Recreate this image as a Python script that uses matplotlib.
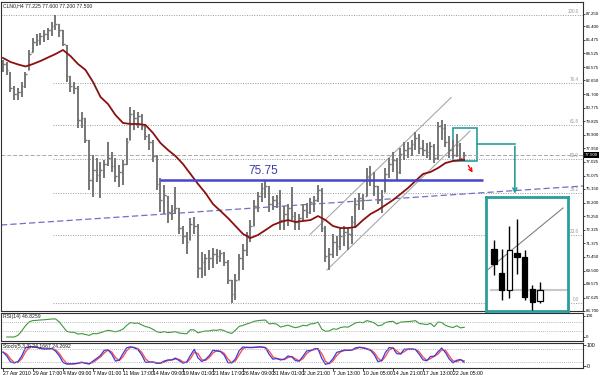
import numpy as np
import pandas as pd
import matplotlib
matplotlib.use("Agg")
import matplotlib.pyplot as plt
from matplotlib.patches import Rectangle

plt.rcParams['font.family'] = ['Liberation Sans', 'DejaVu Sans']

title = "CLN0,H4 77.225 77.600 77.200 77.500"

# price bars (one bar per 8 hours)
highs = [84.07, 83.93, 83.24, 82.27, 82.13, 82.55, 83.24, 84.76, 85.59, 85.87,
         85.94, 86.14, 86.28, 86.70, 87.18, 86.56, 86.14, 85.11, 82.96, 82.55,
         82.27, 80.47, 80.05, 78.53, 77.49, 77.29, 77.01, 77.15, 78.39, 77.70,
         77.29, 76.80, 77.15, 78.67, 80.82, 80.61, 80.47, 80.33, 79.64, 78.95,
         78.53, 77.49, 75.90, 75.42, 74.66, 74.03, 75.28, 73.83, 72.58, 72.17,
         73.13, 73.20, 72.72, 70.78, 70.64, 70.92, 71.06, 70.99, 70.92, 70.78,
         70.23, 68.84, 69.26, 70.64, 71.34, 72.17, 72.99, 74.38, 74.93, 75.56,
         75.70, 75.35, 74.66, 74.73, 75.07, 73.97, 74.10, 75.28, 73.55, 73.41,
         74.10, 74.17, 74.52, 74.66, 75.42, 75.21, 72.58, 71.06, 72.03, 71.89,
         72.44, 72.58, 72.44, 73.27, 74.52, 74.86, 74.79, 76.59, 76.73, 76.32,
         75.35, 75.07, 76.59, 77.29, 77.70, 77.29, 77.98, 78.39, 78.39, 78.53,
         79.09, 78.95, 78.53, 78.32, 78.39, 78.25, 79.78, 79.92, 79.64, 78.81,
         78.53, 78.95, 78.32, 77.70]
lows = [83.24, 83.03, 81.85, 81.30, 81.30, 81.51, 82.13, 83.38, 84.62, 85.04,
        85.11, 85.31, 85.45, 85.73, 86.14, 85.66, 85.04, 82.55, 81.85, 81.72,
        79.36, 79.36, 78.32, 75.07, 74.59, 75.63, 74.52, 75.90, 76.73, 76.32,
        75.63, 75.28, 75.42, 76.80, 78.53, 79.22, 79.36, 79.22, 78.53, 77.84,
        77.01, 75.07, 73.55, 73.41, 72.79, 72.99, 73.41, 72.03, 71.34, 70.64,
        71.61, 72.03, 68.98, 68.98, 69.12, 69.54, 69.67, 69.95, 70.09, 69.81,
        68.57, 67.25, 67.46, 68.84, 69.54, 70.50, 71.47, 72.58, 73.55, 74.24,
        74.52, 73.55, 73.69, 73.83, 72.30, 72.30, 72.58, 72.99, 72.30, 72.30,
        72.99, 73.13, 73.41, 73.55, 74.24, 72.17, 70.09, 69.54, 70.37, 70.50,
        70.92, 71.20, 70.92, 71.34, 72.44, 73.69, 73.69, 74.66, 75.35, 74.66,
        74.10, 73.48, 74.93, 75.90, 76.32, 75.76, 76.18, 77.15, 77.29, 77.42,
        77.84, 77.56, 77.42, 77.29, 77.15, 76.94, 77.15, 78.53, 78.05, 77.29,
        77.29, 77.36, 77.08, 77.22]
closes = [83.79, 83.38, 82.13, 81.72, 81.85, 82.27, 83.10, 84.48, 85.31, 85.45,
          85.73, 85.87, 86.14, 86.42, 86.56, 86.14, 85.18, 82.96, 82.27, 82.13,
          79.92, 80.05, 78.53, 75.76, 76.46, 76.11, 76.46, 76.87, 77.29, 76.73,
          76.04, 76.32, 76.87, 78.39, 80.33, 80.05, 80.19, 79.50, 78.81, 78.39,
          77.42, 75.49, 74.38, 74.73, 73.55, 73.69, 73.83, 72.44, 71.89, 71.47,
          72.72, 72.58, 69.67, 70.09, 70.37, 70.37, 70.64, 70.50, 70.71, 70.09,
          68.84, 67.88, 68.84, 70.37, 70.92, 71.75, 72.58, 73.97, 74.66, 75.21,
          75.35, 74.10, 74.38, 74.17, 72.99, 73.41, 73.83, 73.27, 72.86, 73.13,
          73.69, 73.55, 74.24, 74.38, 75.07, 72.44, 70.50, 70.64, 71.47, 71.20,
          71.89, 72.17, 72.03, 72.86, 74.10, 74.52, 74.38, 76.04, 75.76, 75.35,
          74.38, 74.66, 76.18, 76.87, 77.15, 76.32, 77.56, 77.84, 77.98, 78.25,
          78.67, 77.98, 77.84, 77.70, 78.12, 77.29, 79.50, 79.36, 78.39, 77.84,
          77.49, 78.18, 77.29, 77.50]
first_open = 83.95

# moving average, read every second bar
ma_values = [84.21, 83.93, 83.76, 83.62, 83.79, 84.00, 84.24, 84.48, 84.76, 84.34,
             83.79, 83.38, 82.55, 81.51, 81.02, 80.26, 79.71, 79.64, 79.64, 79.57,
             79.02, 78.32, 77.84, 77.42, 76.87, 76.18, 75.49, 74.86, 74.10, 73.62,
             73.13, 72.58, 72.03, 71.75, 71.96, 72.30, 72.65, 72.86, 72.99, 72.86,
             72.93, 72.99, 73.27, 72.99, 72.58, 72.44, 72.44, 72.51, 72.99, 73.41,
             73.69, 74.03, 74.38, 74.79, 75.21, 75.70, 76.18, 76.32, 76.59, 76.94,
             77.08, 77.15, 77.15]

bid = 77.50
support = 75.75
fib_high, fib_low = 87.18, 67.28
fib_levels = [100.0, 76.4, 61.8, 50.0, 38.2, 23.6, 0.0]

x_labels = ["27 Apr 2010", "29 Apr 17:00", "4 May 09:00", "7 May 01:00", "11 May 17:00",
            "14 May 09:00", "19 May 01:00", "21 May 17:00", "26 May 09:00", "31 May 01:00",
            "2 Jun 21:00", "7 Jun 13:00", "10 Jun 05:00", "14 Jun 21:00", "17 Jun 13:00",
            "22 Jun 05:00"]
price_ticks = [87.250, 86.400, 85.475, 84.525, 83.575, 82.650, 81.700, 80.775, 79.825,
               78.900, 77.950, 77.025, 76.075, 75.150, 74.200, 73.250, 72.325, 71.375,
               70.450, 69.500, 68.575, 67.625, 66.700]

# last seven H4 candles, shown magnified
inset_open = [78.32, 77.84, 77.50, 78.23, 78.16, 77.52, 77.28]
inset_high = [78.50, 78.32, 78.78, 78.92, 78.30, 77.60, 77.66]
inset_low = [77.80, 77.30, 77.34, 77.83, 77.30, 77.10, 77.24]
inset_close = [78.02, 77.50, 78.30, 78.17, 77.36, 77.26, 77.50]

# trend lines (bar index, price)
chan_low = ([86.4, 124.5], [69.54, 79.14])
chan_up = ([81.9, 119.5], [72.00, 81.47])
slant = ([-0.53, 154.67], [72.65, 75.35])

teal = '#2a9d9d'
small = 3.7
axis_fs = 3.2


def px_rect(x0, y0, x1, y1):
    return [x0 / 600, 1 - y1 / 375, (x1 - x0) / 600, (y1 - y0) / 375]


idx = np.arange(len(closes))
hi = pd.Series(highs)
lo = pd.Series(lows)
cl = pd.Series(closes)
opens = np.clip(np.r_[first_open, cl.values[:-1]], lo.values, hi.values)

# indicators
delta = cl.diff().fillna(0)
gain = delta.clip(lower=0).ewm(alpha=1 / 7, adjust=True).mean()
loss = (-delta.clip(upper=0)).ewm(alpha=1 / 7, adjust=True).mean()
rsi = 100 - 100 / (1 + gain / loss)
ll = lo.rolling(3, min_periods=1).min()
hh = hi.rolling(3, min_periods=1).max()
k_line = 100 * (cl - ll).rolling(2, min_periods=1).sum() / (hh - ll).rolling(2, min_periods=1).sum()
d_line = k_line.rolling(2, min_periods=1).mean()

fig = plt.figure(figsize=(6, 3.75), dpi=100)
ax = fig.add_axes(px_rect(1, 2, 583, 311))
ax_rsi = fig.add_axes(px_rect(1, 313, 583, 341))
ax_st = fig.add_axes(px_rect(1, 343, 583, 368))

for a in (ax, ax_rsi, ax_st):
    a.set_xlim(-0.53, 154.67)
    for s in a.spines.values():
        s.set_linewidth(0.8)
        s.set_color('#303030')
    a.tick_params(bottom=False, labelbottom=False, left=False, labelleft=False,
                  right=True, labelright=True)
    a.tick_params(axis='y', length=1.5, width=0.5, pad=0.4, labelsize=axis_fs)

ax.set_ylim(66.70, 88.08)
ax.set_yticks(price_ticks)
ax.set_yticklabels([f"{p:.3f}" for p in price_ticks])

# fibonacci levels
for lvl in fib_levels:
    p = fib_low + (fib_high - fib_low) * lvl / 100
    x0 = -0.53 if lvl == 100.0 else 13.3
    ax.hlines(p, x0, 154.67, colors='#9a9a9a', linestyles=(0, (1, 1.5)), lw=0.7)
    ax.text(153.6, p + 0.05, f"{lvl:.1f}", ha='right', va='bottom', fontsize=3.3, color='#9a9a9a')

ax.axhline(bid, color='#a8a8a8', ls=(0, (4, 2)), lw=0.7)
ax.text(1.003, bid, f"{bid:.3f}", transform=ax.get_yaxis_transform(), fontsize=axis_fs,
        color='white', va='center', ha='left', zorder=5,
        bbox=dict(facecolor='black', edgecolor='none', pad=0.6))

ax.plot(slant[0], slant[1], color='#7070c8', ls=(0, (5, 2.5)), lw=0.9)
ax.plot(chan_low[0], chan_low[1], color='#a8a8a8', lw=0.8)
ax.plot(chan_up[0], chan_up[1], color='#a8a8a8', lw=0.8)

# bars
ax.vlines(idx, lows, highs, colors='#767676', lw=1.4)
ax.hlines(opens, idx - 0.45, idx, colors='#767676', lw=1.0)
ax.hlines(closes, idx, idx + 0.45, colors='#767676', lw=1.0)

ma_idx = np.r_[np.arange(0, 124, 2), 123]
ax.plot(ma_idx, ma_values, color='#8b1010', lw=1.3)

ax.hlines(support, 41.9, 128.0, colors='#4646c8', lw=1.8)
ax.text(65.3, support + 0.2, "75.75", fontsize=8.5, color='#3a3aa8', va='bottom')

ax.annotate("", xy=(125.6, 76.11), xytext=(123.7, 76.94),
            arrowprops=dict(arrowstyle='->', color='red', lw=0.9, mutation_scale=6))

ax.add_patch(Rectangle((120.0, 77.08), 6.4, 2.28, fill=False, ec=teal, lw=1.2))
ax.plot([126.4, 136.5], [78.26, 78.26], color=teal, lw=1.2)
ax.annotate("", xy=(136.5, 74.62), xytext=(136.5, 78.28),
            arrowprops=dict(arrowstyle='->', color=teal, lw=1.2, mutation_scale=7))

ax.text(0.004, 0.995, title, transform=ax.transAxes, fontsize=small, color='#202020',
        va='top', ha='left')

# inset
axi = fig.add_axes(px_rect(486, 197, 568, 311))
axi.set_xlim(-1.04, 9.65)
axi.set_ylim(77.08, 79.36)
axi.set_xticks([])
axi.set_yticks([])
for s in axi.spines.values():
    s.set_color(teal)
    s.set_linewidth(2)
axi.hlines(bid, -0.5, 9.6, colors='#c8c8c8', lw=1.5, zorder=1)
axi.plot([2 * (x - 120) for x in chan_low[0]], chan_low[1], color='#808080', lw=0.8, zorder=2)
for k in range(len(inset_close)):
    o, h, l, c = inset_open[k], inset_high[k], inset_low[k], inset_close[k]
    axi.vlines(k, l, h, colors='black', lw=1.0, zorder=3)
    axi.add_patch(Rectangle((k - 0.33, min(o, c)), 0.66, abs(c - o),
                            fc='black' if c < o else 'white', ec='black', lw=0.9, zorder=4))

# RSI
ax_rsi.set_ylim(-19, 114)
ax_rsi.plot(idx, rsi, color='#3c9a3c', lw=0.8)
for lv in (70, 30):
    ax_rsi.axhline(lv, color='#a0a0a0', ls=(0, (1, 1.5)), lw=0.6)
ax_rsi.set_yticks([100, 0])
ax_rsi.set_yticklabels(["100", "0"])
ax_rsi.text(0.004, 0.95, "RSI(14) 46.8259", transform=ax_rsi.transAxes, fontsize=small,
            color='#202020', va='top')

# Stochastic
ax_st.set_ylim(-9.5, 109.5)
ax_st.plot(idx, d_line, color='#ff5050', lw=1.0)
ax_st.plot(idx, k_line, color='#3a3ae0', lw=0.9)
for lv in (80, 20):
    ax_st.axhline(lv, color='#a0a0a0', ls=(0, (1, 1.5)), lw=0.6)
ax_st.set_yticks([100, 0])
ax_st.set_yticklabels(["100", "0"])
ax_st.text(0.004, 0.95, "Stoch(5,3,3) 24.1667 24.2692", transform=ax_st.transAxes,
           fontsize=small, color='#202020', va='top')

ax_st.tick_params(bottom=True, labelbottom=True, length=2, width=0.5, pad=0.5, labelsize=small)
ax_st.set_xticks(np.arange(0, 8 * len(x_labels), 8))
ax_st.set_xticklabels(x_labels, ha='left')

fig.savefig("out.png", dpi=100, facecolor='white')
